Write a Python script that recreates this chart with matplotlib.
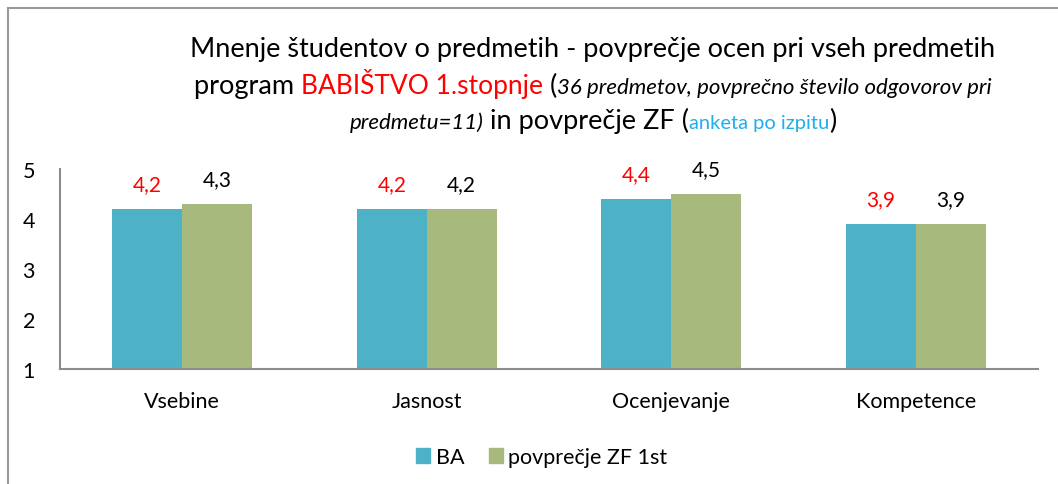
import matplotlib
matplotlib.use("Agg")
import numpy as np
import matplotlib.pyplot as plt
from matplotlib.lines import Line2D

plt.rcParams['font.family'] = ['Lato', 'DejaVu Sans']

categories = ["Vsebine", "Jasnost", "Ocenjevanje", "Kompetence"]
ba_values = [4.2, 4.2, 4.4, 3.9]
zf_values = [4.3, 4.2, 4.5, 3.9]
series_names = ["BA", "povprečje ZF 1st"]
y_ticks = [1, 2, 3, 4, 5]

BLUE = "#4DB2C6"
GREEN = "#A8B97E"
W, H = 1058, 485

fig = plt.figure(figsize=(W / 100, H / 100), dpi=100)
ax = fig.add_axes([60 / W, 1 - 370 / H, 978 / W, 200 / H])

x = np.arange(len(categories))
bw = 0.286
b1 = ax.bar(x - bw / 2, ba_values, bw, color=BLUE, label=series_names[0])
b2 = ax.bar(x + bw / 2, zf_values, bw, color=GREEN, label=series_names[1])

# data labels: BA in red, ZF in black
for bars, vals, col in [(b1, ba_values, "red"), (b2, zf_values, "black")]:
    for rect, v in zip(bars, vals):
        ax.annotate(f"{v:.1f}".replace(".", ","), (rect.get_x() + rect.get_width() / 2, v),
                    xytext=(0, 11), textcoords="offset points", ha="center", va="bottom",
                    color=col, fontsize=15)

ax.set_xlim(-0.5, 3.5)
ax.set_ylim(1, 5)
ax.set_yticks(y_ticks)
ax.set_xticks(x)
ax.set_xticklabels(categories, fontsize=15.5)
ax.tick_params(axis="y", length=0, pad=18, labelsize=15.5)
ax.tick_params(axis="x", length=0, pad=16)
for s in ["top", "right"]:
    ax.spines[s].set_visible(False)
for s in ["left", "bottom"]:
    ax.spines[s].set_color("#8c8c8c")
    ax.spines[s].set_linewidth(1.5)

# legend
handles = [plt.Rectangle((0, 0), 1, 1, color=BLUE), plt.Rectangle((0, 0), 1, 1, color=GREEN)]
fig.legend(handles, series_names, loc="center", bbox_to_anchor=(542 / W, 1 - 458 / H),
           ncol=2, frameon=False, fontsize=15.5, handlelength=0.65, handleheight=0.65,
           handletextpad=0.25, columnspacing=1.15)

# outer border (top and left)
fig.add_artist(Line2D([8 / W, 1], [1 - 9 / H, 1 - 9 / H], color="#999999", lw=1.5))
fig.add_artist(Line2D([8 / W, 8 / W], [0, 1 - 9 / H], color="#999999", lw=1.5))

# title with mixed styles
renderer = fig.canvas.get_renderer()


def text_line(y_px, parts, cx_px=593):
    texts = []
    for s, kw in parts:
        texts.append(fig.text(0, 1 - y_px / H, s, ha="left", va="baseline", **kw))
    widths = [t.get_window_extent(renderer).width for t in texts]
    xpos = cx_px - sum(widths) / 2
    for t, w in zip(texts, widths):
        t.set_x(xpos / W)
        xpos += w


T = dict(fontsize=19.5, color="black")
I = dict(fontsize=16, color="black", style="italic")
text_line(57, [("Mnenje študentov o predmetih - povprečje ocen pri vseh predmetih", T)])
text_line(94, [("program\u00a0", T), ("BABIŠTVO 1.stopnje", dict(fontsize=19, color="red")),
               ("\u00a0(", T), ("36 predmetov, povprečno število odgovorov pri", I)])
text_line(129, [("predmetu=11)", I), ("\u00a0in povprečje ZF (", T),
                ("anketa po izpitu", dict(fontsize=14.5, color="#1FAEEF")), (")", T)])

fig.savefig("out.png", dpi=100)
